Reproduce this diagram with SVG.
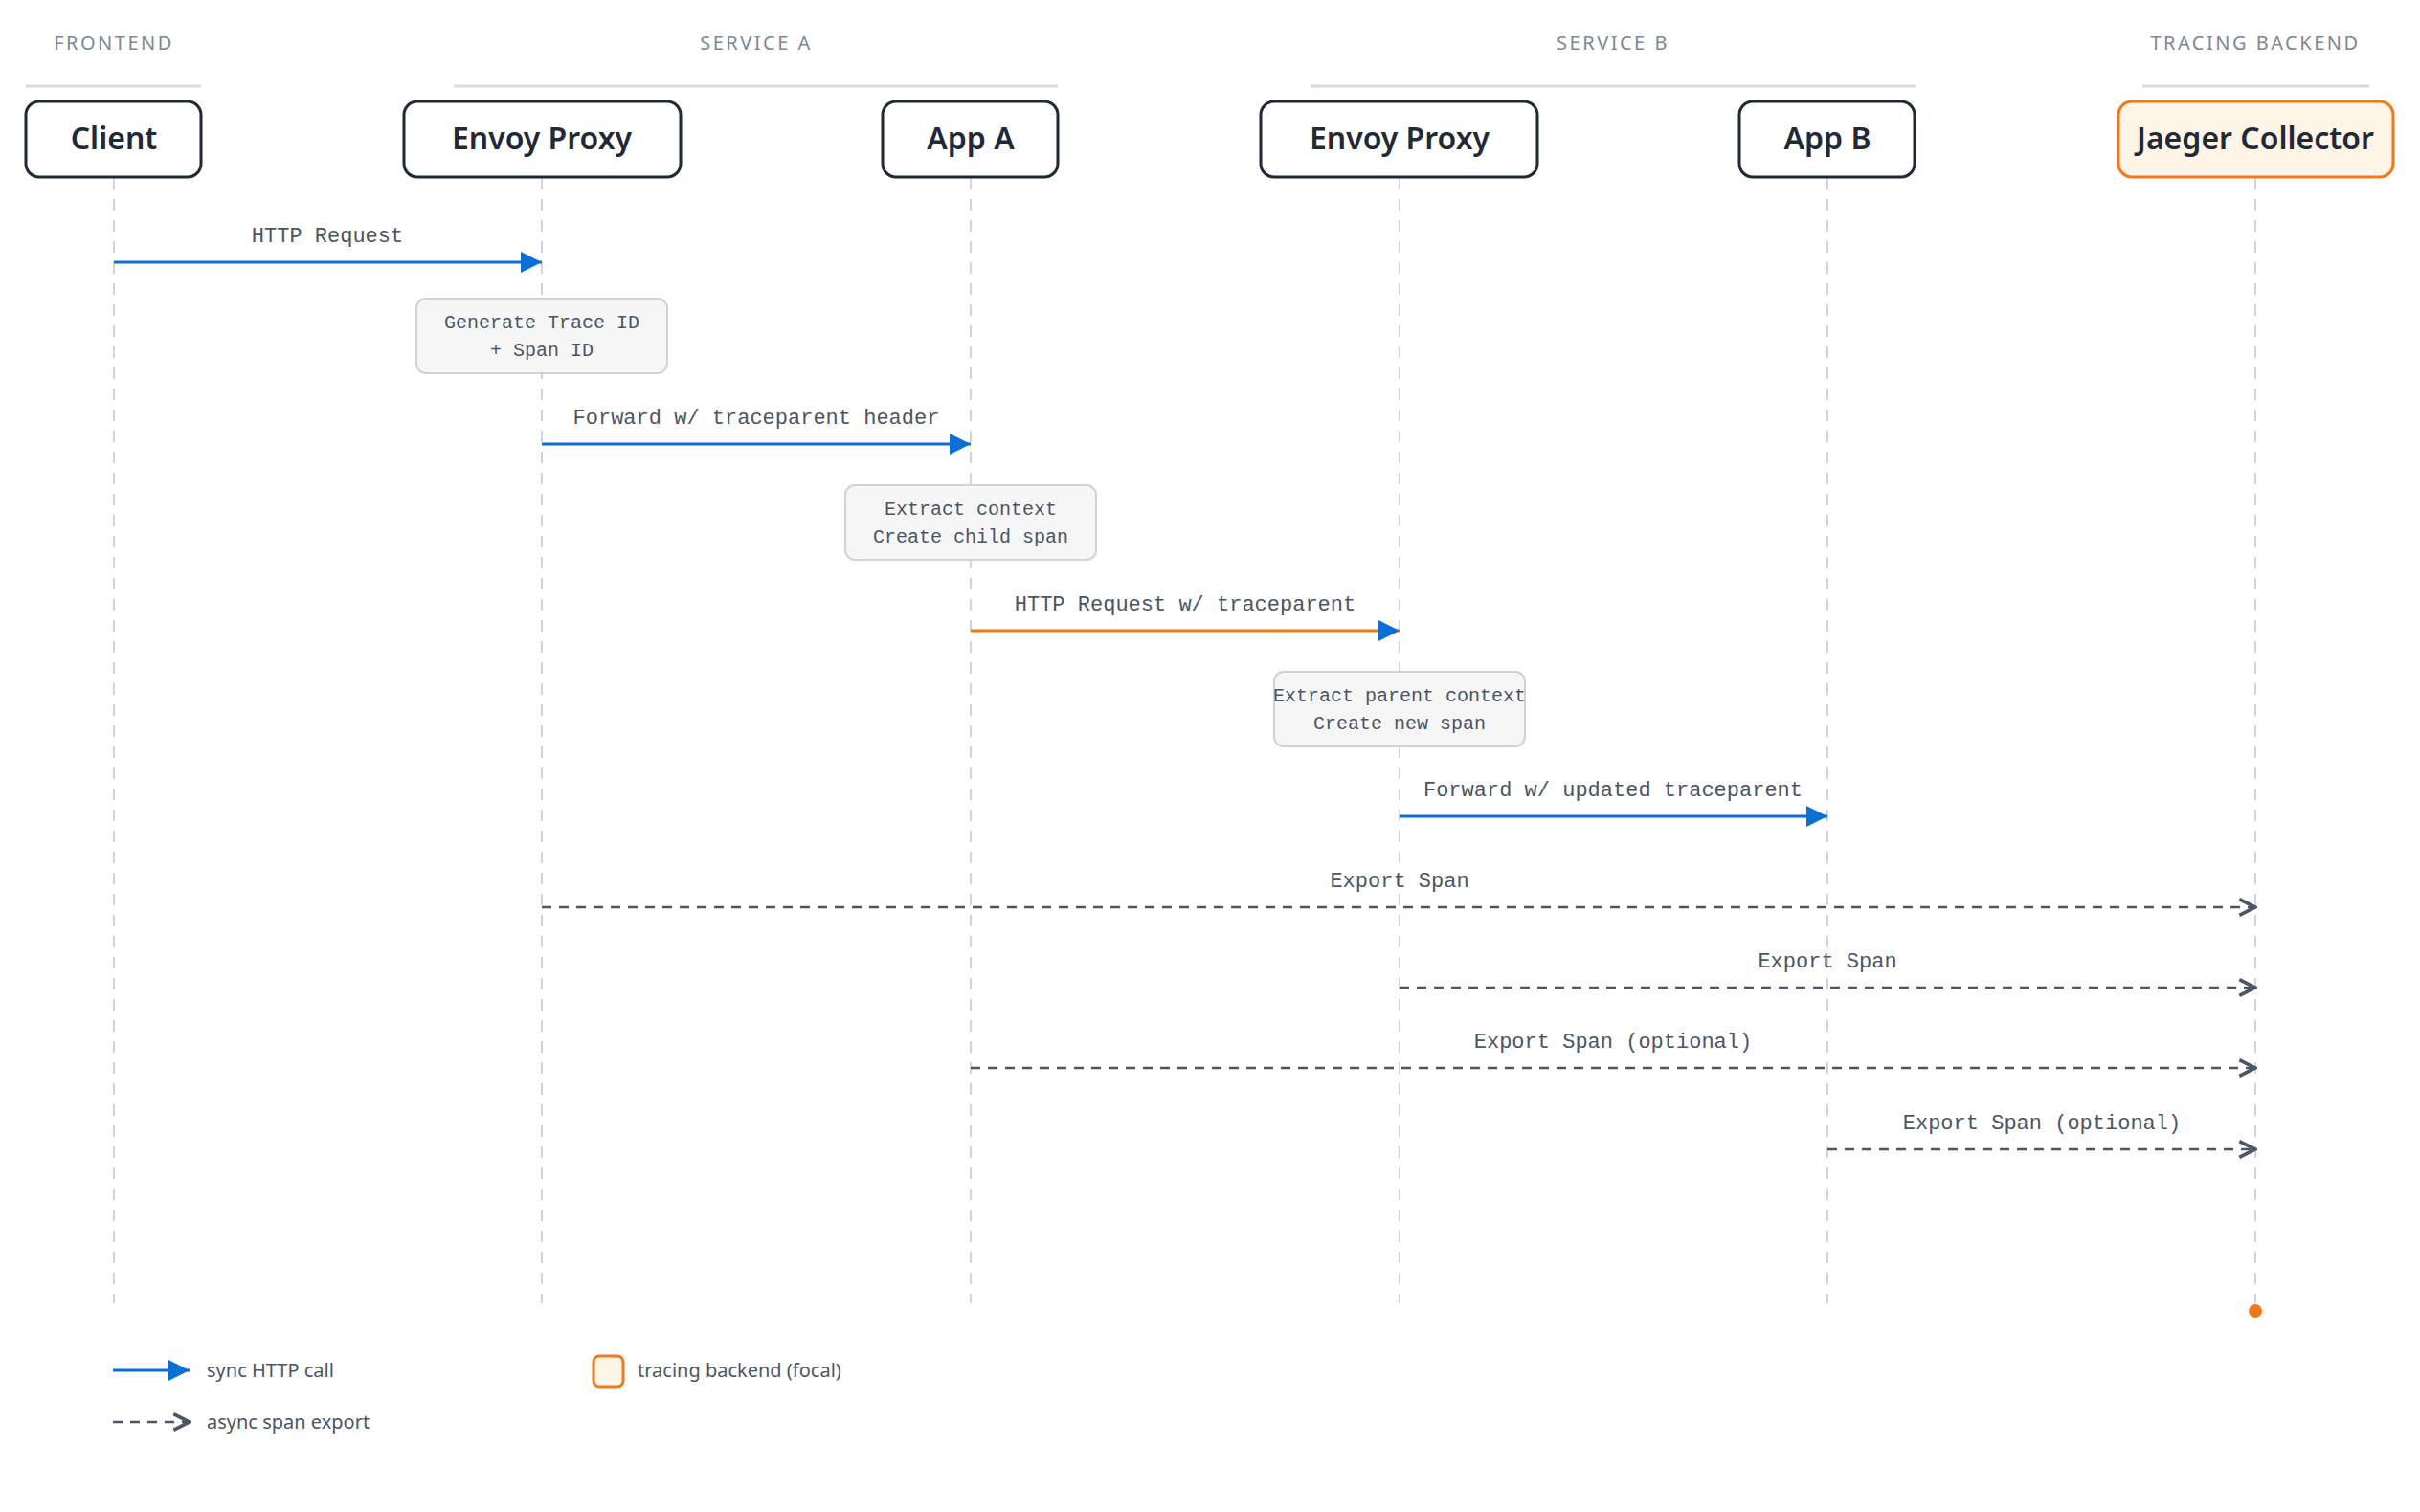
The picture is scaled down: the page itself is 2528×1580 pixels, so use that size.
<svg xmlns="http://www.w3.org/2000/svg" width="2528" height="1580" viewBox="0 0 2528 1580">
<defs>
<marker id="solid" viewBox="0 0 10 10" refX="10" refY="5" markerWidth="22" markerHeight="22" markerUnits="userSpaceOnUse" orient="auto"><path d="M0,0 L10,5 L0,10 Z" fill="#0b6fd6"/></marker>
<marker id="open" viewBox="0 0 12 12" refX="11" refY="6" markerWidth="20" markerHeight="20" markerUnits="userSpaceOnUse" orient="auto"><path d="M1,1 L11,6 L1,11" fill="none" stroke="#4b5563" stroke-width="2.2"/></marker>
<style>
.grp{font-family:"Noto Sans","Liberation Sans",sans-serif;font-size:20px;letter-spacing:2.5px;fill:#7b8794;text-anchor:middle}
.gl{stroke:#d6dcdc;stroke-width:3}
.node rect{fill:#fff;stroke:#1f2937;stroke-width:3}
.node text,.focal text{font-family:"Noto Sans","Liberation Sans",sans-serif;font-size:32px;font-weight:600;fill:#1f2937;text-anchor:middle}
.focal rect{fill:#fff5e6;stroke:#f07a1a;stroke-width:3}
.life{stroke:#d1d5db;stroke-width:2;stroke-dasharray:12 10}
.lbl{font-family:"Liberation Mono","DejaVu Sans Mono",monospace;font-size:22px;fill:#4b5563;text-anchor:middle}
.note rect{fill:#f6f6f6;stroke:#d0d2d6;stroke-width:2}
.note text{font-family:"Liberation Mono","DejaVu Sans Mono",monospace;font-size:20px;fill:#4b5563;text-anchor:middle}
.sync{stroke:#0b6fd6;stroke-width:3;fill:none}
.async{stroke:#4b5563;stroke-width:2.5;stroke-dasharray:10 8;fill:none}
.leg{font-family:"Noto Sans","Liberation Sans",sans-serif;font-size:20px;fill:#4b5563}
</style>
</defs>
<g id="groups">
<text class="grp" x="119" y="52">FRONTEND</text><line class="gl" x1="27" y1="90" x2="210" y2="90"/>
<text class="grp" x="790" y="52">SERVICE A</text><line class="gl" x1="474" y1="90" x2="1105" y2="90"/>
<text class="grp" x="1685" y="52">SERVICE B</text><line class="gl" x1="1369" y1="90" x2="2001" y2="90"/>
<text class="grp" x="2356" y="52">TRACING BACKEND</text><line class="gl" x1="2238" y1="90" x2="2475" y2="90"/>
</g>
<g id="lifelines">
<line class="life" x1="119" y1="186" x2="119" y2="1362"/>
<line class="life" x1="566" y1="186" x2="566" y2="1362"/>
<line class="life" x1="1014" y1="186" x2="1014" y2="1362"/>
<line class="life" x1="1462" y1="186" x2="1462" y2="1362"/>
<line class="life" x1="1909" y1="186" x2="1909" y2="1362"/>
<line class="life" x1="2356" y1="186" x2="2356" y2="1362"/>
<circle cx="2356" cy="1370" r="7" fill="#f07a1a"/>
</g>
<g id="client" class="node"><rect x="27" y="106" width="183" height="79" rx="14"/><text x="119" y="156">Client</text></g>
<g id="envoyA" class="node"><rect x="422" y="106" width="289" height="79" rx="14"/><text x="566" y="156">Envoy Proxy</text></g>
<g id="appA" class="node"><rect x="922" y="106" width="183" height="79" rx="14"/><text x="1014" y="156">App A</text></g>
<g id="envoyB" class="node"><rect x="1317" y="106" width="289" height="79" rx="14"/><text x="1462" y="156">Envoy Proxy</text></g>
<g id="appB" class="node"><rect x="1817" y="106" width="183" height="79" rx="14"/><text x="1909" y="156">App B</text></g>
<g id="jaeger" class="focal"><rect x="2213" y="106" width="287" height="79" rx="14"/><text x="2356" y="156">Jaeger Collector</text></g>
<g id="notes">
<g class="note"><rect x="435" y="312" width="262" height="78" rx="10"/><text x="566" y="343">Generate Trace ID</text><text x="566" y="372">+ Span ID</text></g>
<g class="note"><rect x="883" y="507" width="262" height="78" rx="10"/><text x="1014" y="538">Extract context</text><text x="1014" y="567">Create child span</text></g>
<g class="note"><rect x="1331" y="702" width="262" height="78" rx="10"/><text x="1462" y="733">Extract parent context</text><text x="1462" y="762">Create new span</text></g>
</g>
<g id="connectors">
<line class="sync" x1="119" y1="274" x2="566" y2="274" marker-end="url(#solid)"/>
<text class="lbl" x="342" y="253">HTTP Request</text>
<line class="sync" x1="566" y1="464" x2="1014" y2="464" marker-end="url(#solid)"/>
<text class="lbl" x="790" y="443">Forward w/ traceparent header</text>
<line class="sync" style="stroke:#f07a1a" x1="1014" y1="659" x2="1462" y2="659" marker-end="url(#solid)"/>
<text class="lbl" x="1238" y="638">HTTP Request w/ traceparent</text>
<line class="sync" x1="1462" y1="853" x2="1909" y2="853" marker-end="url(#solid)"/>
<text class="lbl" x="1685" y="832">Forward w/ updated traceparent</text>
<line class="async" x1="566" y1="948" x2="2356" y2="948" marker-end="url(#open)"/>
<text class="lbl" x="1462" y="927">Export Span</text>
<line class="async" x1="1462" y1="1032" x2="2356" y2="1032" marker-end="url(#open)"/>
<text class="lbl" x="1909" y="1011">Export Span</text>
<line class="async" x1="1014" y1="1116" x2="2356" y2="1116" marker-end="url(#open)"/>
<text class="lbl" x="1685" y="1095">Export Span (optional)</text>
<line class="async" x1="1909" y1="1201" x2="2356" y2="1201" marker-end="url(#open)"/>
<text class="lbl" x="2133" y="1180">Export Span (optional)</text>
</g>
<g id="legend">
<line class="sync" x1="118" y1="1432" x2="198" y2="1432" marker-end="url(#solid)"/>
<text class="leg" x="216" y="1439">sync HTTP call</text>
<line class="async" x1="118" y1="1486" x2="198" y2="1486" marker-end="url(#open)"/>
<text class="leg" x="216" y="1493">async span export</text>
<rect x="620" y="1417" width="31" height="32" rx="6" fill="#fff5e6" stroke="#f07a1a" stroke-width="3"/>
<text class="leg" x="666" y="1439">tracing backend (focal)</text>
</g>
</svg>
